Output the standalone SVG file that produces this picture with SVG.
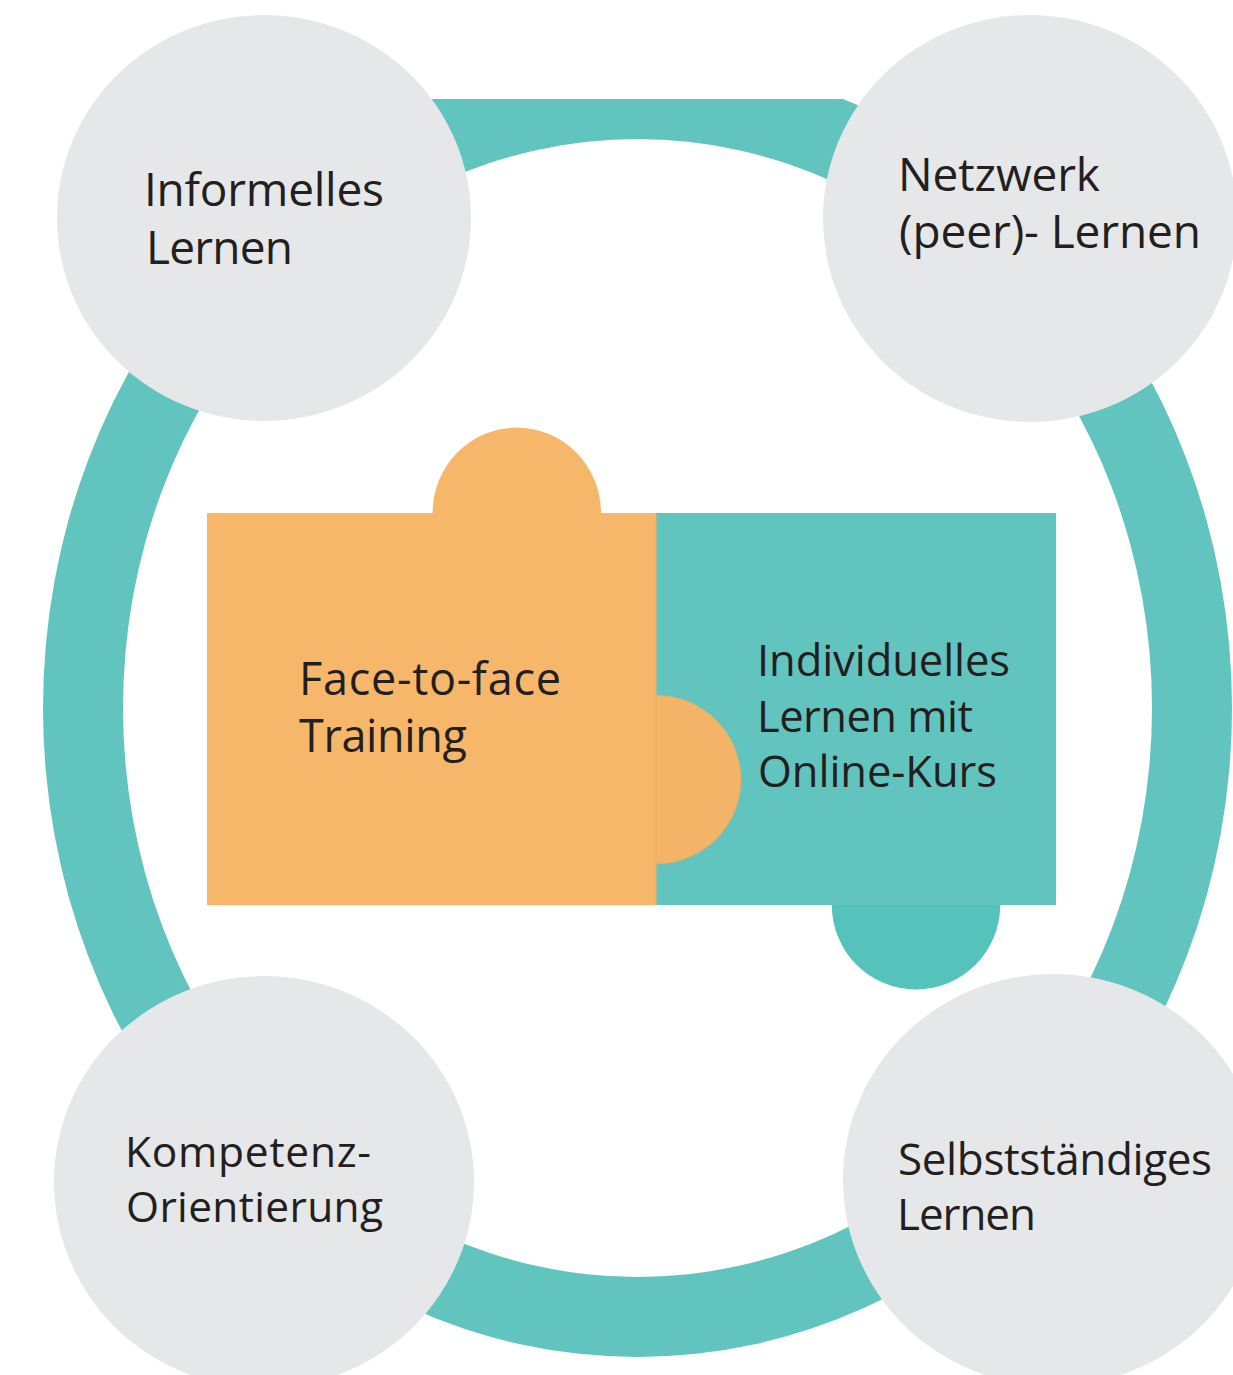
<svg xmlns="http://www.w3.org/2000/svg" width="1233" height="1375" viewBox="0 0 1233 1375">
<defs>
<style>
.t{font-family:"Open Sans","Noto Sans","DejaVu Sans",sans-serif;fill:#231f20;}
.node{fill:#e6e7e8;}
.ring{fill:#62c4be;fill-rule:evenodd;}
</style>
<clipPath id="topclip"><rect x="0" y="99" width="1233" height="1276"/></clipPath>
</defs>
<rect width="1233" height="1375" fill="#ffffff"/>
<g id="connectors">
<path class="ring" clip-path="url(#topclip)" d="M43,708 a594.5,649 0 1,0 1189,0 a594.5,649 0 1,0 -1189,0 Z M123,708 a514.5,569 0 1,0 1029,0 a514.5,569 0 1,0 -1029,0 Z"/>
</g>
<g id="node-informelles">
<ellipse class="node" cx="264" cy="218" rx="207" ry="203"/>
<text class="t" font-size="46"><tspan x="144" y="206" textLength="240" lengthAdjust="spacing">Informelles</tspan><tspan x="146" y="264" textLength="147" lengthAdjust="spacing">Lernen</tspan></text>
</g>
<g id="node-netzwerk">
<ellipse class="node" cx="1030" cy="218.5" rx="207" ry="203.5"/>
<text class="t" font-size="46"><tspan x="898" y="191" textLength="202" lengthAdjust="spacing">Netzwerk</tspan><tspan x="899" y="248" textLength="302" lengthAdjust="spacing">(peer)- Lernen</tspan></text>
</g>
<g id="node-kompetenz">
<ellipse class="node" cx="264" cy="1182" rx="210" ry="206"/>
<text class="t" font-size="42.5"><tspan x="125" y="1167" textLength="246" lengthAdjust="spacing">Kompetenz-</tspan><tspan x="126" y="1222" textLength="257" lengthAdjust="spacing">Orientierung</tspan></text>
</g>
<g id="node-selbst">
<ellipse class="node" cx="1053" cy="1180" rx="210" ry="206"/>
<text class="t" font-size="44"><tspan x="898" y="1175" textLength="314" lengthAdjust="spacing">Selbstständiges</tspan><tspan x="897" y="1230" textLength="139" lengthAdjust="spacing">Lernen</tspan></text>
</g>
<g id="node-face">
<ellipse cx="516.8" cy="513" rx="84.2" ry="85.4" fill="#f7b76b"/>
<rect x="207" y="513" width="449" height="392" fill="#f7b76b"/>
<text class="t" font-size="45"><tspan x="299" y="695" textLength="262" lengthAdjust="spacing">Face-to-face</tspan><tspan x="299" y="752" textLength="168" lengthAdjust="spacing">Training</tspan></text>
</g>
<g id="node-online">
<ellipse cx="916" cy="905" rx="84.2" ry="84.4" fill="#55c3bc"/>
<rect x="656" y="513" width="400" height="392" fill="#62c4be"/>
<path d="M656,695.4 A84.8,84.2 0 0,1 656,863.8 Z" fill="#f3b468" stroke="#e8ad66" stroke-width="0.8"/>
<line x1="656" y1="513" x2="656" y2="905" stroke="#e9ad63" stroke-width="1"/>
<text class="t" font-size="43.5"><tspan x="757" y="676" textLength="253" lengthAdjust="spacing">Individuelles</tspan><tspan x="757" y="732" textLength="216" lengthAdjust="spacing">Lernen mit</tspan><tspan x="758" y="787" textLength="239" lengthAdjust="spacing">Online-Kurs</tspan></text>
</g>
</svg>
